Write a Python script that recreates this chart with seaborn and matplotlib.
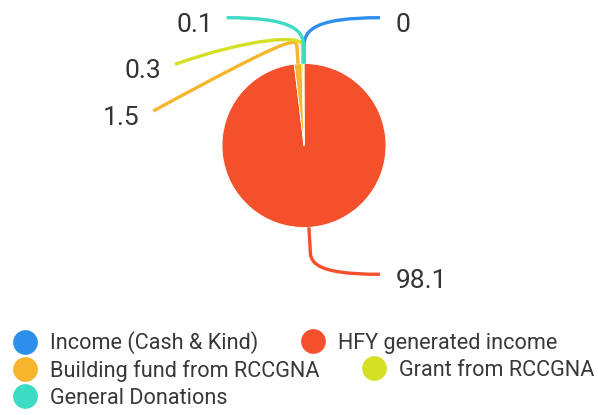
import numpy as np
import matplotlib
matplotlib.use("Agg")
import matplotlib.pyplot as plt
from matplotlib.path import Path
from matplotlib.patches import PathPatch
from matplotlib.lines import Line2D
import seaborn as sns

# ---- data ----
categories = ["Income (Cash & Kind)", "HFY generated income",
              "Building fund from RCCGNA", "Grant from RCCGNA", "General Donations"]
values = [0.0, 98.1, 1.5, 0.3, 0.1]
value_labels = ["0", "98.1", "1.5", "0.3", "0.1"]
colors = ["#2E8FEA", "#F4502B", "#F7B52D", "#D5DF24", "#3CDBC3"]

sns.set_theme(style="white")
plt.rcParams["font.family"] = ["Roboto", "DejaVu Sans"]

W, H = 598, 415
fig = plt.figure(figsize=(W / 100, H / 100), dpi=100)
fig.patch.set_facecolor("white")
ax = fig.add_axes([0, 0, 1, 1])

def P(x, y):
    """pixel (top-left origin) -> data coords"""
    return (x, H - y)

cx, cy = P(304, 145.5)
R = 82
ax.pie(values, colors=colors, startangle=90, counterclock=False,
       center=(cx, cy), radius=R,
       wedgeprops=dict(edgecolor="white", linewidth=0.6))
ax.set_xlim(0, W)
ax.set_ylim(0, H)
ax.set_aspect("equal")
ax.axis("off")

# ---- leader lines (start from wedge mid-angles) ----
total = sum(values)
cum = np.cumsum([0] + values[:-1])
mid_deg = [90 - 360 * (c + v / 2) / total for c, v in zip(cum, values)]

# layout: elbow radial offset, control points (px), end point (px), label side
layout = [
    dict(d=18, ctrl=[(304.5, 30), (315, 17.7)], end=(380, 17.7), side="right"),
    dict(d=22, ctrl=[(310, 262), (314, 274.3)], end=(380, 274.3), side="right"),
    dict(d=19, ctrl=[(295, 38), (282, 41)], end=(153.3, 111), side="left"),
    dict(d=19, ctrl=[(300, 35), (250, 38)], end=(175, 64.3), side="left"),
    dict(d=18, ctrl=[(303, 30), (292, 17.7)], end=(226.7, 17.7), side="left"),
]

for ang, col, lab, lay in zip(mid_deg, colors, value_labels, layout):
    a = np.deg2rad(ang)
    start = (cx + R * np.cos(a), cy + R * np.sin(a))
    elbow = (cx + (R + lay["d"]) * np.cos(a), cy + (R + lay["d"]) * np.sin(a))
    c1 = P(*lay["ctrl"][0])
    c2 = P(*lay["ctrl"][1])
    end = P(*lay["end"])
    verts = [start, elbow, c1, c2, end]
    codes = [Path.MOVETO, Path.LINETO, Path.CURVE4, Path.CURVE4, Path.CURVE4]
    ax.add_patch(PathPatch(Path(verts, codes), facecolor="none", edgecolor=col,
                           lw=2.4, capstyle="butt", joinstyle="round", zorder=1))
    if lay["side"] == "right":
        tx, ha = end[0] + 15.5, "left"
    else:
        tx, ha = end[0] - 13.5, "right"
    ax.text(tx, end[1] - 14, lab, ha=ha, va="baseline", fontsize=19,
            color="#333333")

# ---- legend (flow layout, one legend per item) ----
fs_leg = 15.6
px_per_pt = 100 / 72
items = [  # marker centre x, row centre y (px)
    (25, 343), (313, 343),
    (25, 370.5), (374, 370.5),
    (25, 398.5),
]
for (mx, my), cat, col in zip(items, categories, colors):
    h = Line2D([], [], linestyle="", marker="o", markersize=17.8,
               markerfacecolor=col, markeredgewidth=0)
    fs_px = fs_leg * px_per_pt
    left = mx - 12
    leg = fig.legend(handles=[h], labels=[cat], loc="center left",
                     bbox_to_anchor=(left / W, 1 - my / H),
                     frameon=False, fontsize=fs_leg, borderpad=0,
                     borderaxespad=0, handlelength=24 / fs_px,
                     handletextpad=13 / fs_px, handleheight=0.7)
    for t in leg.get_texts():
        t.set_color("#383838")

fig.savefig("out.png", dpi=100, facecolor="white")
